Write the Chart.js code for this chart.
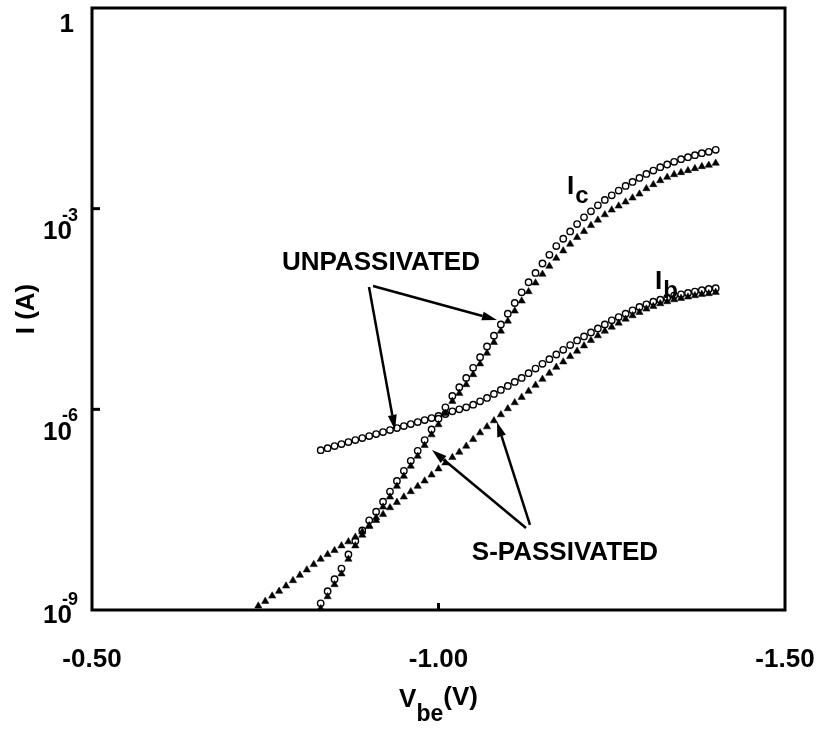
<!DOCTYPE html>
<html>
<head>
<meta charset="utf-8">
<script src="https://cdn.jsdelivr.net/npm/chart.js@4.4.1/dist/chart.umd.min.js"></script>
<style>
  html, body { margin: 0; padding: 0; background: #fff; }
  canvas { display: block; }
</style>
</head>
<body>
<canvas id="chart" width="829" height="752"></canvas>
<script>
// ── Data: base-emitter voltage (V) and log10 of current (A) ──
const vbe = [
  -0.74, -0.75, -0.76, -0.77, -0.78, -0.79, -0.80, -0.81, -0.82, -0.83,
  -0.84, -0.85, -0.86, -0.87, -0.88, -0.89, -0.90, -0.91, -0.92, -0.93,
  -0.94, -0.95, -0.96, -0.97, -0.98, -0.99, -1.00, -1.01, -1.02, -1.03,
  -1.04, -1.05, -1.06, -1.07, -1.08, -1.09, -1.10, -1.11, -1.12, -1.13,
  -1.14, -1.15, -1.16, -1.17, -1.18, -1.19, -1.20, -1.21, -1.22, -1.23,
  -1.24, -1.25, -1.26, -1.27, -1.28, -1.29, -1.30, -1.31, -1.32, -1.33,
  -1.34, -1.35, -1.36, -1.37, -1.38, -1.39, -1.40
];

// collector current, unpassivated (circles)
const icUnpassLog = [
  null, null, null, null, null, null, null, null, null,
  -8.90, -8.72, -8.54, -8.38, -8.17, -7.97, -7.81, -7.66, -7.53, -7.38,
  -7.23, -7.07, -6.92, -6.77, -6.62, -6.46, -6.30, -6.14, -5.97, -5.80,
  -5.67, -5.53, -5.38, -5.22, -5.06, -4.90, -4.73, -4.57, -4.41, -4.25,
  -4.10, -3.96, -3.82, -3.69, -3.56, -3.45, -3.34, -3.23, -3.13, -3.04,
  -2.95, -2.87, -2.80, -2.73, -2.66, -2.60, -2.54, -2.48, -2.43, -2.38,
  -2.34, -2.30, -2.26, -2.23, -2.20, -2.17, -2.15, -2.12
];

// collector current, S-passivated (triangles)
const icPassLog = [
  null, null, null, null, null, null, null, null, null,
  -8.98, -8.80, -8.62, -8.46, -8.24, -8.04, -7.88, -7.74, -7.62, -7.46,
  -7.31, -7.15, -7.00, -6.85, -6.70, -6.54, -6.38, -6.23, -6.06, -5.88,
  -5.76, -5.63, -5.48, -5.32, -5.16, -5.00, -4.83, -4.68, -4.53, -4.38,
  -4.24, -4.11, -3.98, -3.86, -3.74, -3.63, -3.53, -3.43, -3.34, -3.25,
  -3.17, -3.09, -3.02, -2.96, -2.90, -2.84, -2.78, -2.70, -2.64, -2.58,
  -2.53, -2.49, -2.46, -2.43, -2.40, -2.37, -2.35, -2.32
];

// base current, unpassivated (circles)
const ibUnpassLog = [
  null, null, null, null, null, null, null, null, null,
  -6.61, -6.58, -6.55, -6.52, -6.49, -6.46, -6.43, -6.40, -6.37, -6.34,
  -6.31, -6.28, -6.25, -6.22, -6.19, -6.16, -6.13, -6.10, -6.07, -6.03,
  -6.00, -5.97, -5.93, -5.88, -5.83, -5.77, -5.71, -5.65, -5.59, -5.53,
  -5.46, -5.39, -5.32, -5.25, -5.18, -5.11, -5.04, -4.97, -4.91, -4.85,
  -4.79, -4.73, -4.67, -4.62, -4.57, -4.52, -4.47, -4.43, -4.39, -4.36,
  -4.33, -4.30, -4.28, -4.26, -4.24, -4.22, -4.20, -4.19
];

// base current, S-passivated (triangles)
const ibPassLog = [
  -8.94, -8.87, -8.79, -8.72, -8.64, -8.56, -8.48, -8.40, -8.32, -8.24,
  -8.17, -8.11, -8.04, -7.98, -7.91, -7.83, -7.75, -7.66, -7.57, -7.47,
  -7.39, -7.31, -7.23, -7.15, -7.07, -6.98, -6.89, -6.80, -6.72, -6.64,
  -6.55, -6.45, -6.35, -6.26, -6.17, -6.08, -5.99, -5.90, -5.82, -5.73,
  -5.64, -5.55, -5.46, -5.37, -5.29, -5.21, -5.13, -5.05, -4.97, -4.90,
  -4.83, -4.77, -4.71, -4.65, -4.60, -4.55, -4.50, -4.46, -4.42, -4.39,
  -4.36, -4.34, -4.32, -4.30, -4.28, -4.27, -4.25
];

const xTicks = [-0.5, -1.0, -1.5];
const yTicks = [1e-9, 1e-6, 1e-3, 1];

// ── Annotations, placed in data units (Vbe, log10 I) ─────
const notes = [
  { text: 'UNPASSIVATED', v: -0.917,  lg: -3.81 },
  { text: 'S-PASSIVATED', v: -1.1825, lg: -8.15 }
];
const subNotes = [
  { main: 'I', sub: 'c', v: -1.1854, lg: -2.676 },
  { main: 'I', sub: 'b', v: -1.3124, lg: -4.096 }
];
const arrows = [
  [-0.9055, -4.155, -1.0844, -4.664],
  [-0.8997, -4.170, -0.9372, -6.308],
  [-1.1263, -7.773, -0.9906, -6.607],
  [-1.1320, -7.728, -1.0844, -6.188]
];

const FAMILY = "'Liberation Sans', Arial, Helvetica, sans-serif";
const font = size => `bold ${size}px ${FAMILY}`;

const toPoints = logs => vbe
  .map((v, i) => ({ x: v, y: logs[i] == null ? null : Math.pow(10, logs[i]) }))
  .filter(p => p.y !== null);

function arrow(ctx, x1, y1, x2, y2) {
  const ang = Math.atan2(y2 - y1, x2 - x1);
  const L = 15, W = 4.5;
  const bx = x2 - L * Math.cos(ang), by = y2 - L * Math.sin(ang);
  ctx.beginPath();
  ctx.moveTo(x1, y1);
  ctx.lineTo(bx, by);
  ctx.stroke();
  ctx.beginPath();
  ctx.moveTo(x2, y2);
  ctx.lineTo(bx + W * Math.sin(ang), by - W * Math.cos(ang));
  ctx.lineTo(bx - W * Math.sin(ang), by + W * Math.cos(ang));
  ctx.closePath();
  ctx.fill();
}

// ── Frame, inner ticks, tick labels, titles, notes ────────
const decor = {
  id: 'decor',
  afterDraw(chart) {
    const { ctx, chartArea: a, scales: { x, y } } = chart;
    const px = v => x.getPixelForValue(v);
    const py = lg => y.getPixelForValue(Math.pow(10, lg));
    ctx.save();
    ctx.strokeStyle = '#000';
    ctx.fillStyle = '#000';

    ctx.lineWidth = 3;
    ctx.strokeRect(a.left, a.top, a.right - a.left, a.bottom - a.top);

    y.ticks.forEach(t => {
      if (t.value <= y.min || t.value >= y.max) return;
      const yy = y.getPixelForValue(t.value);
      ctx.beginPath(); ctx.moveTo(a.left, yy); ctx.lineTo(a.left + 8, yy); ctx.stroke();
    });
    x.ticks.forEach(t => {
      if (t.value <= x.min || t.value >= x.max) return;
      const xx = x.getPixelForValue(t.value);
      ctx.beginPath(); ctx.moveTo(xx, a.bottom); ctx.lineTo(xx, a.bottom - 7); ctx.stroke();
    });

    // y tick labels as 10 with a raised exponent
    ctx.textBaseline = 'middle';
    y.ticks.forEach(t => {
      const e = Math.round(Math.log10(t.value));
      const yy = y.getPixelForValue(t.value);
      if (e === 0) {
        ctx.font = font(26); ctx.textAlign = 'right';
        ctx.fillText('1', a.left - 18, yy + 17);
        return;
      }
      const shift = t.value <= y.min ? -17 : 0;
      ctx.font = font(26); ctx.textAlign = 'right';
      ctx.fillText('10', a.left - 20, yy + 23 + shift);
      ctx.font = font(18); ctx.textAlign = 'left';
      ctx.fillText(String(e), a.left - 30, yy + 7 + shift);
    });

    // x axis title  V_be(V)
    const parts = [['V', 26, 0], ['be', 23, 15], ['(V)', 26, -2]];
    let w = 0;
    parts.forEach(p => { ctx.font = font(p[1]); w += ctx.measureText(p[0]).width; });
    let cx = (a.left + a.right) / 2 - w / 2;
    ctx.textAlign = 'left';
    parts.forEach(p => {
      ctx.font = font(p[1]);
      ctx.fillText(p[0], cx, 700 + p[2]);
      cx += ctx.measureText(p[0]).width;
    });

    // notes and arrows
    ctx.font = font(26); ctx.textAlign = 'center';
    notes.forEach(n => ctx.fillText(n.text, px(n.v), py(n.lg)));
    subNotes.forEach(n => {
      const x0 = px(n.v), y0 = py(n.lg);
      ctx.font = font(26); ctx.textAlign = 'left';
      ctx.fillText(n.main, x0, y0);
      const mw = ctx.measureText(n.main).width;
      ctx.font = font(24);
      ctx.fillText(n.sub, x0 + mw + 1, y0 + 9);
    });
    ctx.lineWidth = 2.5;
    arrows.forEach(r => arrow(ctx, px(r[0]), py(r[1]), px(r[2]), py(r[3])));
    ctx.restore();
  }
};

const circle = { pointStyle: 'circle', pointRadius: 3.2, pointBorderWidth: 1.4,
                 pointBorderColor: '#000', pointBackgroundColor: '#fff' };
const tri = { pointStyle: 'triangle', pointRadius: 4.2, pointBorderWidth: 0.5,
              pointBorderColor: '#000', pointBackgroundColor: '#000' };

new Chart(document.getElementById('chart'), {
  type: 'scatter',
  data: {
    datasets: [
      { label: 'Ic S-passivated', data: toPoints(icPassLog),   order: 1, ...tri },
      { label: 'Ib S-passivated', data: toPoints(ibPassLog),   order: 2, ...tri },
      { label: 'Ic unpassivated', data: toPoints(icUnpassLog), order: 3, ...circle },
      { label: 'Ib unpassivated', data: toPoints(ibUnpassLog), order: 4, ...circle }
    ]
  },
  options: {
    responsive: false,
    animation: false,
    layout: { padding: { top: 8, right: 44, left: 0, bottom: 0 } },
    plugins: { legend: { display: false }, tooltip: { enabled: false } },
    scales: {
      x: {
        type: 'linear',
        reverse: true,
        min: -1.5,
        max: -0.5,
        afterBuildTicks: s => { s.ticks = xTicks.map(v => ({ value: v })); },
        afterFit: s => { s.height = 142; s.paddingLeft = 0; s.paddingRight = 0; },
        grid: { display: false },
        border: { display: false },
        ticks: {
          color: '#000',
          font: { family: FAMILY, size: 26, weight: 'bold' },
          padding: 26,
          maxRotation: 0,
          autoSkip: false,
          callback: v => v.toFixed(2)
        }
      },
      y: {
        type: 'logarithmic',
        min: 1e-9,
        max: 1,
        afterBuildTicks: s => { s.ticks = yTicks.map(v => ({ value: v })); },
        afterFit: s => { s.width = 92; s.paddingTop = 0; s.paddingBottom = 0; },
        grid: { display: false },
        border: { display: false },
        ticks: { display: false },
        title: {
          display: true,
          text: 'I (A)',
          color: '#000',
          font: { family: FAMILY, size: 26, weight: 'bold' },
          padding: { top: 11, bottom: 0 }
        }
      }
    }
  },
  plugins: [decor]
});
</script>
</body>
</html>
